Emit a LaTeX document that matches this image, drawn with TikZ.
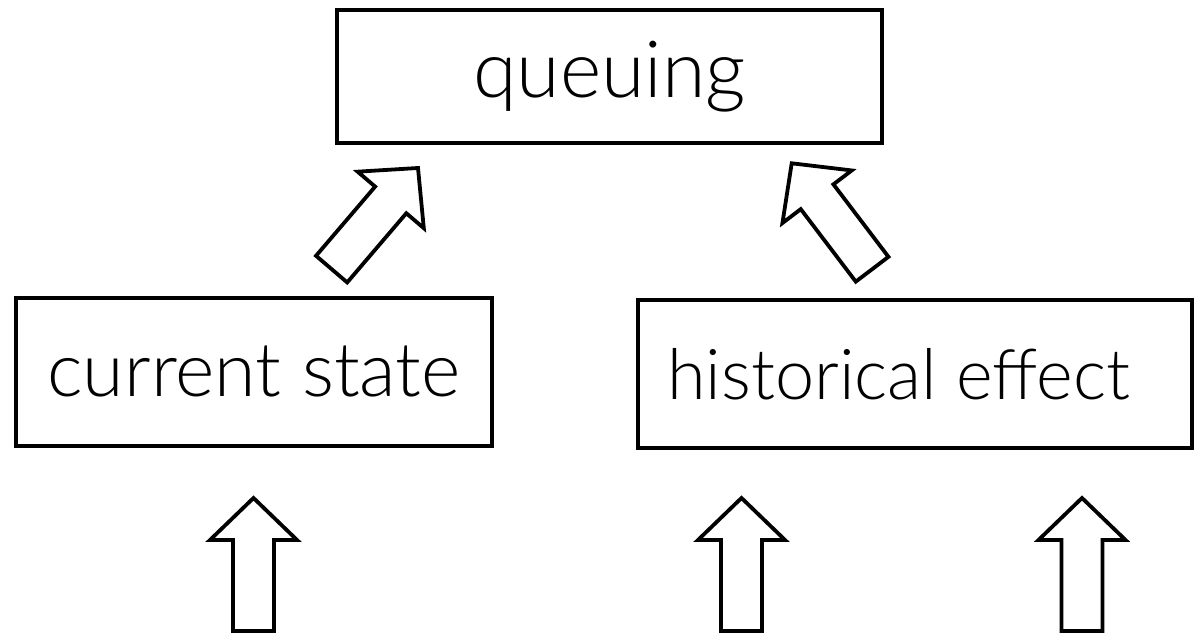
\documentclass[tikz,border=0pt]{standalone}
\usepackage{fontspec}
\setmainfont{Lato}[UprightFont=* Light]
\begin{document}
\begin{tikzpicture}[x=1pt,y=1pt,
  box/.style={draw, line width=4pt, inner sep=0pt},
  blockarrow/.style={draw, line width=3.8pt, line join=miter, fill=white},
  uparrow/.pic={\draw[blockarrow] (0,0) -- (43.5,-42) -- (20.5,-42) -- (20.5,-133)
     -- (-20.5,-133) -- (-20.5,-42) -- (-43.5,-42) -- cycle;}]
\useasboundingbox (0,0) rectangle (1194,634);
% boxes
\node[box, minimum width=545pt, minimum height=133pt,
  font=\fontsize{79}{90}\selectfont] (queue) at (609.5,557.5) {queuing};
\node[box, minimum width=476pt, minimum height=148.5pt,
  font=\fontsize{75.3}{86}\selectfont] (cur) at (254,262) {current state};
\node[box, minimum width=554pt, minimum height=148pt,
  font=\fontsize{70.2}{80}\selectfont] (hist) at (915,260)
  {\makebox[554pt][l]{\hspace{29pt}historical effect}};
% block arrows feeding the boxes
\pic[rotate=-40.5] at (418,466) {uparrow};
\pic[rotate=37.2] at (791.7,470.7) {uparrow};
\pic at (253.5,136) {uparrow};
\pic at (741.5,136) {uparrow};
\pic at (1082,136) {uparrow};
\end{tikzpicture}
\end{document}
